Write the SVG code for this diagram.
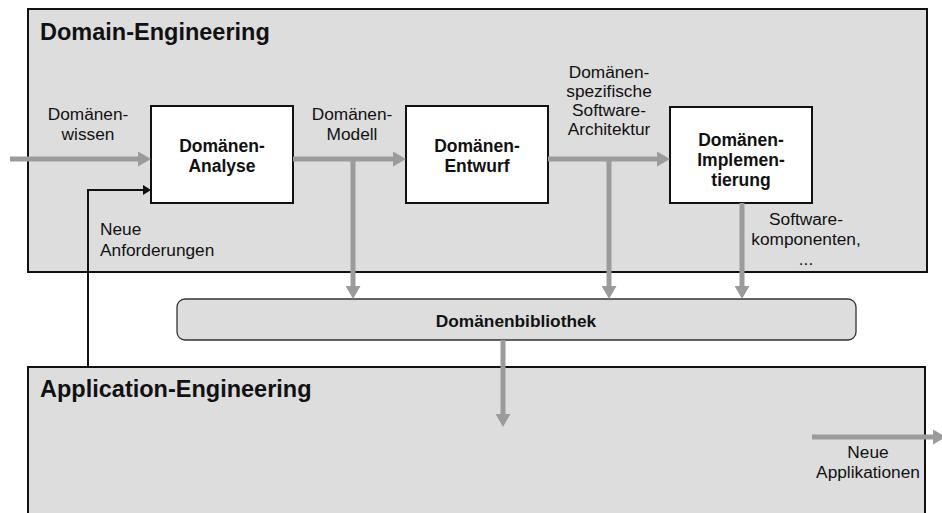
<svg xmlns="http://www.w3.org/2000/svg" width="942" height="513" viewBox="0 0 942 513">
  <style>
    text { font-family: "Liberation Sans", Arial, Helvetica, sans-serif; fill: #111; }
    .title { font-size: 23.5px; font-weight: bold; }
    .node-label { font-size: 17.5px; font-weight: bold; text-anchor: middle; }
    .lib-label { font-size: 17.3px; font-weight: bold; text-anchor: middle; }
    .flow-label { font-size: 17.3px; text-anchor: middle; }
    .flow-label-left { font-size: 17.3px; }
    .area { fill: #dddddd; stroke: #111; stroke-width: 2; }
    .step { fill: #ffffff; stroke: #111; stroke-width: 2; }
    .library { fill: #dddddd; stroke: #333; stroke-width: 1.3; }
    .flow { fill: none; stroke: #9b9b9b; stroke-width: 5; }
    .feedback { fill: none; stroke: #111; stroke-width: 2; }
  </style>
  <defs>
    <marker id="grayHead" viewBox="0 0 13 15" refX="0" refY="7.5" markerWidth="13" markerHeight="15" markerUnits="userSpaceOnUse" orient="auto">
      <path d="M0,0 L13,7.5 L0,15 z" fill="#9b9b9b"/>
    </marker>
    <marker id="blackHead" viewBox="0 0 8 10" refX="0" refY="5" markerWidth="8" markerHeight="10" markerUnits="userSpaceOnUse" orient="auto">
      <path d="M0,0 L8,5 L0,10 z" fill="#111"/>
    </marker>
  </defs>

  <!-- Domain engineering area -->
  <g id="domain-engineering">
    <rect class="area" x="28" y="9" width="899" height="263"/>
    <text class="title" x="40" y="40">Domain-Engineering</text>
  </g>

  <!-- Application engineering area (runs past the lower edge) -->
  <g id="application-engineering">
    <rect class="area" x="28" y="367" width="897" height="160"/>
    <text class="title" x="40" y="397">Application-Engineering</text>
  </g>

  <!-- Shared domain library -->
  <g id="domaenenbibliothek">
    <rect class="library" x="177" y="299" width="679" height="41" rx="8" ry="8"/>
    <text class="lib-label" x="516" y="327">Domänenbibliothek</text>
  </g>

  <!-- Process steps -->
  <g id="domaenen-analyse">
    <rect class="step" x="151" y="106" width="142" height="97"/>
    <text class="node-label" x="222" y="152">Domänen-</text>
    <text class="node-label" x="222" y="172">Analyse</text>
  </g>

  <g id="domaenen-entwurf">
    <rect class="step" x="406" y="106" width="142" height="97"/>
    <text class="node-label" x="477" y="152">Domänen-</text>
    <text class="node-label" x="477" y="172">Entwurf</text>
  </g>

  <g id="domaenen-implementierung">
    <rect class="step" x="670" y="107" width="142" height="96"/>
    <text class="node-label" x="741" y="146">Domänen-</text>
    <text class="node-label" x="741" y="166">Implemen-</text>
    <text class="node-label" x="741" y="186">tierung</text>
  </g>

  <!-- Connectors -->
  <g id="connectors">
    <line class="flow" x1="10" y1="159" x2="138" y2="159" marker-end="url(#grayHead)"/>
    <line class="flow" x1="293" y1="159" x2="393" y2="159" marker-end="url(#grayHead)"/>
    <line class="flow" x1="548" y1="159" x2="657" y2="159" marker-end="url(#grayHead)"/>
    <line class="flow" x1="353" y1="159" x2="353" y2="286" marker-end="url(#grayHead)"/>
    <line class="flow" x1="609" y1="159" x2="609" y2="286" marker-end="url(#grayHead)"/>
    <line class="flow" x1="742" y1="203" x2="742" y2="286" marker-end="url(#grayHead)"/>
    <line class="flow" x1="503" y1="340" x2="503" y2="414" marker-end="url(#grayHead)"/>
    <line class="flow" x1="812" y1="437" x2="933" y2="437" marker-end="url(#grayHead)"/>
    <path class="feedback" d="M88,367 V190 H143" marker-end="url(#blackHead)"/>
  </g>

  <!-- Flow labels -->
  <g id="flow-labels">
    <text class="flow-label" x="88" y="120">Domänen-</text>
    <text class="flow-label" x="88" y="140">wissen</text>

    <text class="flow-label" x="352" y="120">Domänen-</text>
    <text class="flow-label" x="352" y="140">Modell</text>

    <text class="flow-label" x="609" y="78">Domänen-</text>
    <text class="flow-label" x="609" y="97">spezifische</text>
    <text class="flow-label" x="609" y="116">Software-</text>
    <text class="flow-label" x="609" y="135">Architektur</text>

    <text class="flow-label" x="806" y="225">Software-</text>
    <text class="flow-label" x="806" y="245">komponenten,</text>
    <text class="flow-label" x="806" y="265">...</text>

    <text class="flow-label-left" x="100" y="235">Neue</text>
    <text class="flow-label-left" x="100" y="256">Anforderungen</text>

    <text class="flow-label" x="868" y="458">Neue</text>
    <text class="flow-label" x="868" y="478">Applikationen</text>
  </g>
</svg>
